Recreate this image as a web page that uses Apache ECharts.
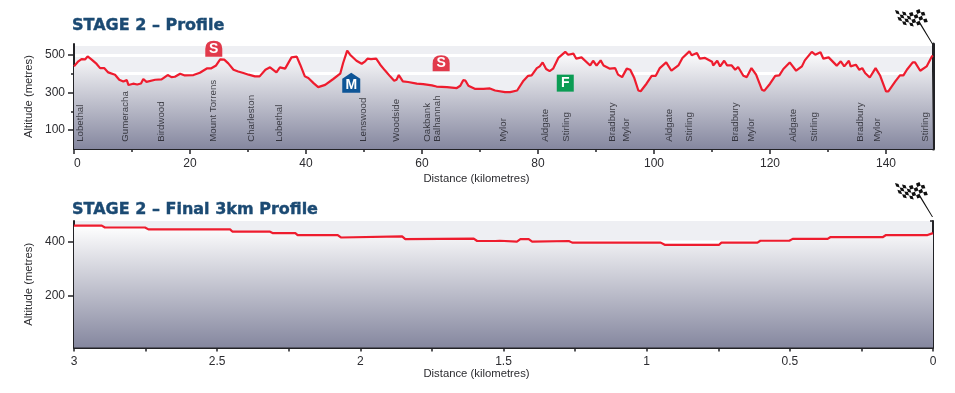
<!DOCTYPE html>
<html><head><meta charset="utf-8">
<script src="https://cdn.jsdelivr.net/npm/echarts@6/dist/echarts.min.js"></script>
<style>html,body{margin:0;padding:0;background:#fff}#c{width:955px;height:393px}</style>
</head><body><div id="c"></div>
<script>
// Stage profile: [km, metres]
const stageProfile = [[0,439],[0.75,466],[1.3,478],[1.9,476],[2.35,492],[3.05,475],[3.9,452],[4.5,430],[5.2,430],[5.9,407],[7.07,395],[7.8,368],[8.5,359],[9.1,366],[9.4,340],[10.2,347],[10.9,343],[11.55,348],[11.95,372],[12.5,357],[14,368],[15.1,370],[16.15,393],[16.8,382],[17.4,384],[18.3,400],[19.1,391],[20.6,393],[21.7,405],[22.9,428],[23.6,428],[24.5,444],[25.2,476],[25.9,475],[26.6,455],[27.5,421],[28.3,412],[29.2,404],[30.1,395],[31.2,386],[32,386],[33,421],[33.8,434],[34.9,407],[35.5,434],[36.4,427],[37.5,487],[38.4,491],[39,448],[39.8,386],[40.4,377],[41.3,350],[42.1,329],[43.3,341],[44.7,372],[45.9,400],[46.4,457],[47.1,523],[47.6,501],[48.7,469],[49.6,453],[50.2,466],[50.6,480],[51.2,478],[52.1,480],[52.8,448],[53.6,418],[54.5,386],[55.2,363],[55.6,368],[56,393],[56.7,359],[57.6,356],[59.1,347],[60.2,345],[61.7,338],[62.5,332],[64.3,329],[66,324],[66.6,336],[67.1,366],[67.5,363],[68,336],[69.1,320],[70.6,320],[71.7,322],[72.6,311],[74.3,302],[75.2,302],[76.4,311],[77.5,363],[78.3,389],[78.9,391],[79.8,430],[80.3,439],[80.8,460],[81.4,425],[82,414],[82.6,427],[83.5,484],[84.7,516],[85.2,501],[86.1,507],[86.6,480],[87.5,487],[89,444],[89.5,469],[90.1,443],[90.8,471],[91.3,444],[92.4,427],[93.3,430],[93.8,395],[94.5,382],[95.3,427],[95.9,421],[96.6,377],[97.3,311],[97.7,307],[98.7,347],[99.6,389],[100.3,389],[101,430],[102.1,460],[103,416],[104.2,444],[104.9,484],[106.1,519],[106.5,498],[107.4,510],[107.9,480],[108.8,484],[110,464],[110.2,444],[110.9,469],[111.4,439],[112.1,469],[112.6,444],[113.4,444],[114,421],[114.5,436],[115.4,389],[116,382],[116.8,430],[117.6,395],[118.6,315],[119,309],[120,347],[120.9,389],[121.6,391],[122.3,425],[123.4,460],[124.5,416],[125.5,439],[126,471],[127.2,516],[127.8,501],[128.7,514],[129.2,480],[130.1,487],[131.5,443],[132.2,466],[132.8,439],[133.6,469],[133.9,439],[134.8,448],[135.4,421],[135.9,430],[136.4,404],[137.2,380],[138.2,430],[139,389],[140,306],[140.4,306],[141.6,359],[142.4,391],[143,391],[143.6,421],[144.6,460],[145,460],[145.9,416],[147,439],[147.9,492],[148.1,496]];
// Final 3 km: [km to go, metres]
const finalProfile = [[3,461],[2.903,461],[2.892,454],[2.752,454],[2.74,447],[2.455,447],[2.447,439],[2.317,439],[2.305,433],[2.227,433],[2.219,426],[2.079,426],[2.068,417],[1.854,421],[1.843,411],[1.604,413],[1.592,404],[1.528,404],[1.522,411],[1.513,405],[1.453,402],[1.441,411],[1.412,411],[1.4,402],[1.272,404],[1.26,398],[0.951,398],[0.937,390],[0.747,390],[0.739,398],[0.613,398],[0.603,405],[0.502,405],[0.49,412],[0.368,412],[0.359,418],[0.176,418],[0.164,426],[0.019,426],[0,433]];
const townNames = ['Lobethal','Gumeracha','Birdwood','Mount Torrens','Charleston','Lobethal','Lenswood','Woodside','Oakbank','Balhannah','Mylor','Aldgate','Stirling','Bradbury','Mylor','Aldgate','Stirling','Bradbury','Mylor','Aldgate','Stirling','Bradbury','Mylor','Stirling'];
const townKm = [1.1,8.8,15,24,30.5,35.4,49.8,55.5,60.9,62.6,74,81.2,84.8,92.8,95.2,102.6,106.1,114,116.7,124,127.6,135.5,138.5,146.7];
const climbs = [['S',24.1,533],['S',63.3,456],['M',47.8,352],['F',84.7,350]];
const stageYMajor = [100,300,500];
const stageYMinor = [200,400];
const stageXMajor = [0,20,40,60,80,100,120,140];
const stageXMinor = [10,30,50,70,90,110,130];
const finalYMajor = [200,400];
const finalYMinor = [100,300,478];
const finalXMajor = [3,2.5,2,1.5,1,0.5,0];
const finalXMinor = [2.75,2.25,1.75,1.25,0.75,0.25];
const finalStripe = [[3,400],[0,400]];

const FONT = '"Liberation Sans", Arial, sans-serif';
const INK = '#222226', TXT = '#2c2c30';
const grad = {type:'linear',x:0,y:0,x2:0,y2:1,colorStops:[{offset:0,color:'#ffffff'},{offset:1,color:'#85879f'}]};
const badgePath = {
  S:'path://M0,16 L0,8 Q0,0 8.5,0 Q17,0 17,8 L17,16 Z',
  M:'path://M9,0 L18,6 L18,20 L0,20 L0,6 Z',
  F:'path://M0,0 H17 V17 H0 Z'
};
const badgeColor = {S:'#e13a4b',M:'#0e5597',F:'#0b9c54'};
const badgeSize = {S:[17,16],M:[18,20],F:[17,17]};
// checkered flag: tapered pole plus check cells on a waving cloth (decoration)
function flagPath(){
  let d = 'M25,14 L38,36 L37,36 L24,15 Z ';
  const wave=[2,3,3.6,4.2,5,4,2.6,1,0.4];
  const n=8, h=3.4, w=3.5;
  for(let i=0;i<n;i++)for(let j=0;j<4;j++){
    if((i+j)%2) continue;
    const sx=j*1.2, y0=wave[i]+j*h, y1=wave[i+1]+j*h, x=i*w+sx;
    d+=`M${x},${y0} L${x+w},${y1} L${x+w+1.2},${y1+h} L${x+1.2},${y0+h} Z `;
  }
  return 'path://M0,0 L0,0 Z '+d;
}
const FLAG = flagPath();

const ax = (o)=>Object.assign({nameTextStyle:{fontFamily:FONT,fontSize:11.3,color:TXT}},o);
const label = {fontFamily:FONT,fontSize:12,color:TXT};
const xName = {fontFamily:FONT,fontSize:11.3,color:TXT,padding:[0,54,0,0]};

const xAxes = [
  {type:'value',gridIndex:0,min:0,max:148.1,position:'bottom',name:'Distance (kilometres)',nameLocation:'middle',nameGap:24,nameTextStyle:xName,
    axisLine:{lineStyle:{color:INK,width:2},onZero:false},axisTick:{length:5,lineStyle:{color:INK,width:1.5},customValues:stageXMajor},
    axisLabel:Object.assign({margin:9,customValues:stageXMajor,alignMinLabel:'left'},label),splitLine:{show:false}},
  {type:'value',gridIndex:0,min:0,max:148.1,position:'bottom',axisLine:{show:false},axisTick:{length:3,lineStyle:{color:INK,width:1.5},customValues:stageXMinor},axisLabel:{show:false},splitLine:{show:false}},
  {type:'value',gridIndex:1,min:0,max:3,inverse:true,position:'bottom',name:'Distance (kilometres)',nameLocation:'middle',nameGap:20,nameTextStyle:xName,
    axisLine:{lineStyle:{color:INK,width:2},onZero:false},axisTick:{length:4,lineStyle:{color:INK,width:1.5},customValues:finalXMajor},
    axisLabel:Object.assign({margin:8,customValues:finalXMajor,formatter:v=>String(v)},label),splitLine:{show:false}},
  {type:'value',gridIndex:1,min:0,max:3,inverse:true,position:'bottom',axisLine:{show:false},axisTick:{length:4,lineStyle:{color:INK,width:1.5},customValues:finalXMinor},axisLabel:{show:false},splitLine:{show:false}}
];
const yAxes = [
  ax({type:'value',gridIndex:0,min:0,max:558,position:'left',name:'Altitude (metres)',nameLocation:'middle',nameGap:33,
    axisLine:{lineStyle:{color:INK,width:2},onZero:false},axisTick:{length:6,lineStyle:{color:INK,width:1.5},customValues:stageYMajor},
    axisLabel:Object.assign({margin:9,customValues:stageYMajor},label),splitLine:{show:false}}),
  {type:'value',gridIndex:0,min:0,max:558,position:'left',axisLine:{show:false},axisTick:{length:3,lineStyle:{color:INK,width:1.5},customValues:stageYMinor},axisLabel:{show:false},splitLine:{show:false}},
  {type:'value',gridIndex:0,min:0,max:558,interval:100,position:'right',axisLine:{show:true,onZero:false,lineStyle:{color:INK,width:3}},axisTick:{show:false},axisLabel:{show:false},splitLine:{show:true,lineStyle:{color:'#ffffff',width:3}}},
  ax({type:'value',gridIndex:1,min:10,max:478,position:'left',name:'Altitude (metres)',nameLocation:'middle',nameGap:33,
    axisLine:{lineStyle:{color:INK,width:2},onZero:false},axisTick:{length:6,lineStyle:{color:INK,width:1.5},customValues:finalYMajor},
    axisLabel:Object.assign({margin:9,customValues:finalYMajor},label),splitLine:{show:false}}),
  {type:'value',gridIndex:1,min:10,max:478,position:'left',axisLine:{show:false},axisTick:{length:3,lineStyle:{color:INK,width:1.5},customValues:finalYMinor},axisLabel:{show:false},splitLine:{show:false}},
  {type:'value',gridIndex:1,min:10,max:478,position:'right',axisLine:{show:true,onZero:false,lineStyle:{color:INK,width:2}},axisTick:{show:false},axisLabel:{show:false},splitLine:{show:false}}
];
const lineSeries = (x,y,data)=>({type:'line',xAxisIndex:x,yAxisIndex:y,data,symbol:'none',smooth:false,z:3,
  lineStyle:{color:'#ee1c2e',width:2.2},areaStyle:{color:grad,opacity:1}});
const flagSeries = (x,y,pt,oy)=>({type:'scatter',xAxisIndex:x,yAxisIndex:y,data:[pt],symbol:FLAG,symbolSize:[38,36],symbolOffset:[-19,oy],clip:false,silent:true,z:6,itemStyle:{color:'#111',opacity:1}});

const titleStyle = {fontFamily:'"DejaVu Sans"',fontWeight:'bold',fontSize:16,color:'#1b4a73',textBorderColor:'#1b4a73',textBorderWidth:0.4};
const option = {
  animation:false,
  backgroundColor:'#ffffff',
  title:[
    {text:'STAGE 2 – Profile',left:72,top:18,textStyle:titleStyle,padding:0},
    {text:'STAGE 2 – Final 3km Profile',left:72,top:202,textStyle:titleStyle,padding:0}
  ],
  grid:[
    {left:74,top:44,width:859,height:105,show:true,backgroundColor:'#eeeff3',borderWidth:0},
    {left:74,top:221,width:859,height:126.5,show:true,backgroundColor:'#eeeff3',borderWidth:0}
  ],
  xAxis:xAxes, yAxis:yAxes,
  series:[
    {type:'line',xAxisIndex:2,yAxisIndex:3,data:finalStripe,symbol:'none',z:1,silent:true,lineStyle:{color:'#ffffff',width:3}},
    lineSeries(0,0,stageProfile),
    lineSeries(2,3,finalProfile),
    {type:'scatter',xAxisIndex:0,yAxisIndex:0,symbol:'circle',symbolSize:1,z:4,silent:true,itemStyle:{color:'rgba(0,0,0,0)'},
     data:townKm.map((k,i)=>({value:[k,33],name:townNames[i]})),
     label:{show:true,position:'inside',rotate:90,align:'left',verticalAlign:'middle',offset:[1,0],formatter:p=>p.name,fontFamily:FONT,fontSize:9.7,color:'#1c1c22'}},
    {type:'scatter',xAxisIndex:0,yAxisIndex:0,z:5,silent:true,
     data:climbs.map(c=>({value:[c[1],c[2]],name:c[0],symbol:badgePath[c[0]],symbolSize:badgeSize[c[0]],itemStyle:{color:badgeColor[c[0]],opacity:1},
       label:{offset:[0,c[0]==='M'?2:0]}})),
     label:{show:true,position:'inside',formatter:p=>p.name,fontFamily:FONT,fontWeight:'bold',fontSize:14,color:'#fff'}},
    flagSeries(0,0,[148.1,558],-18),
    flagSeries(2,3,[0,478],-22)
  ]
};
echarts.init(document.getElementById('c'),null,{renderer:'canvas'}).setOption(option);
</script></body></html>
